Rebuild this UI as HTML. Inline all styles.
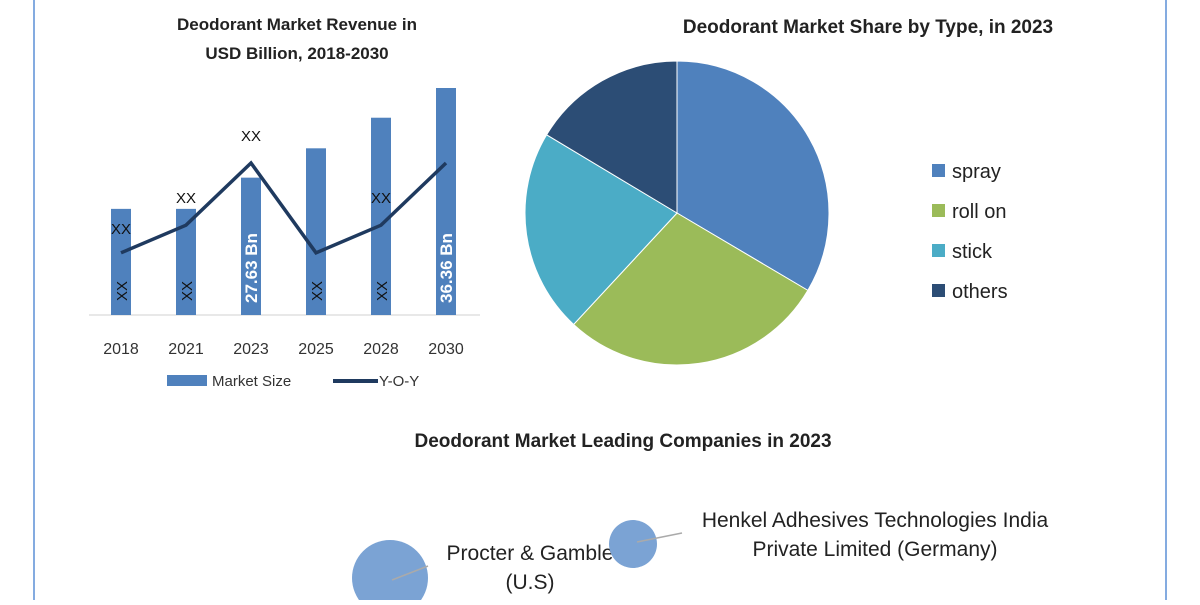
<!DOCTYPE html>
<html><head><meta charset="utf-8"><style>
body{margin:0;width:1200px;height:600px;background:#fff;overflow:hidden;font-family:"Liberation Sans",sans-serif}
svg text{font-family:"Liberation Sans",sans-serif}
</style></head><body>
<svg id="c" width="1200" height="600">
<line x1="34" y1="0" x2="34" y2="600" stroke="#5b8fd6" stroke-width="1.5"/>
<line x1="1166" y1="0" x2="1166" y2="600" stroke="#5b8fd6" stroke-width="1.5"/>
<text x="297" y="30" text-anchor="middle" font-size="17" font-weight="bold" fill="#222">Deodorant Market Revenue in</text>
<text x="297" y="59" text-anchor="middle" font-size="17" font-weight="bold" fill="#222">USD Billion, 2018-2030</text>
<line x1="89" y1="315" x2="480" y2="315" stroke="#d0d0d0"/>
<g id="bars"></g>
<g id="line"></g>
<rect x="167" y="375" width="40" height="11" fill="#4f81bd"/>
<text x="212" y="386" font-size="15" fill="#333">Market Size</text>
<line x1="333" y1="381" x2="378" y2="381" stroke="#1f3a5f" stroke-width="4"/>
<text x="379" y="386" font-size="15" fill="#333">Y-O-Y</text>
<text x="868" y="33" text-anchor="middle" font-size="19" font-weight="bold" fill="#222">Deodorant Market Share by Type, in 2023</text>
<g id="pie"></g>
<g id="legend"></g>
<text x="623" y="447" text-anchor="middle" font-size="19" font-weight="bold" fill="#222">Deodorant Market Leading Companies in 2023</text>
<circle cx="390" cy="578" r="38" fill="#7ba3d4"/>
<line x1="392" y1="580" x2="428" y2="566" stroke="#aaa" stroke-width="1.5"/>
<text x="530" y="560" text-anchor="middle" font-size="21" fill="#222" style="font-family:'Liberation Sans Narrow','Liberation Sans',sans-serif">Procter &amp; Gamble</text>
<text x="530" y="589" text-anchor="middle" font-size="21" fill="#222" style="font-family:'Liberation Sans Narrow','Liberation Sans',sans-serif">(U.S)</text>
<circle cx="633" cy="544" r="24" fill="#7ba3d4"/>
<line x1="637" y1="542" x2="682" y2="533" stroke="#aaa" stroke-width="1.5"/>
<text x="875" y="527" text-anchor="middle" font-size="21" fill="#222" style="font-family:'Liberation Sans Narrow','Liberation Sans',sans-serif">Henkel Adhesives Technologies India</text>
<text x="875" y="556" text-anchor="middle" font-size="21" fill="#222" style="font-family:'Liberation Sans Narrow','Liberation Sans',sans-serif">Private Limited (Germany)</text>
</svg>
<script>
const years=["2018","2021","2023","2025","2028","2030"];
const marketSize=[17.0,17.0,22.0,26.7,31.6,36.36];
const yoy=[2.7,3.9,6.6,2.7,3.9,6.6];
const barLabels=["XX","XX","27.63 Bn","XX","XX","36.36 Bn"];
const yoyLabels=["XX","XX","XX","","XX",""];
const shareTypes=["spray","roll on","stick","others"];
const shareValues=[33.5,28.4,21.7,16.4];
const shareColors=["#4f81bd","#9bbb59","#4bacc6","#2c4d75"];
const NS="http://www.w3.org/2000/svg";
function mk(t,a,p){const e=document.createElementNS(NS,t);for(const k in a)e.setAttribute(k,a[k]);p.appendChild(e);return e;}
const x0=121,step=65,base=315;
const xS=i=>x0+i*step;
const yS=v=>base-v*(227/36.36);
const yL=v=>base-v*(152/6.6);
const gb=document.getElementById('bars');
years.forEach((y,i)=>{
 const top=yS(marketSize[i]);
 const r=mk('rect',{x:xS(i)-10,y:top,width:20,height:base-top,fill:'#4f81bd'},gb);
 
 
 const t=mk('text',{x:xS(i),y:354,'text-anchor':'middle','font-size':16,fill:'#333'},gb);t.textContent=y;
 
 
 const big=barLabels[i]!=="XX";
 const lb=mk('text',{transform:`translate(${xS(i)+6},${big?303:301}) rotate(-90)`,'font-size':big?17:15,'font-weight':big?'bold':'normal',fill:big?'#fff':'#111'},gb);
 lb.textContent=barLabels[i];
 
 
});
const gl=document.getElementById('line');
const pl=mk('polyline',{points:yoy.map((v,i)=>xS(i)+','+yL(v)).join(' '),fill:'none',stroke:'#1f3a5f','stroke-width':3.5},gl);


yoy.forEach((v,i)=>{ if(!yoyLabels[i])return;
 const t=mk('text',{x:xS(i),y:yL(v)-(i==0?19:22),'text-anchor':'middle','font-size':15,fill:'#111'},gl);t.textContent=yoyLabels[i];
 
 
});
const gp=document.getElementById('pie'),cx=677,cy=213,R=152;
const tot=shareValues.reduce((a,b)=>a+b,0);let a0=0;
shareValues.forEach((v,i)=>{
 const a1=a0+v/tot*2*Math.PI;
 const p=(a)=>[cx+R*Math.sin(a),cy-R*Math.cos(a)];
 const [x1,y1]=p(a0),[x2,y2]=p(a1);
 const s=mk('path',{d:`M${cx},${cy}L${x1},${y1}A${R},${R} 0 ${a1-a0>Math.PI?1:0} 1 ${x2},${y2}Z`,fill:shareColors[i],stroke:'#fff','stroke-width':1},gp);
 
 
 a0=a1;
});
const lg=document.getElementById('legend');
shareTypes.forEach((n,i)=>{
 const y=171+i*40;
 const r=mk('rect',{x:932,y:y-7,width:13,height:13,fill:shareColors[i]},lg);
 
 
 const t=mk('text',{x:952,y:y+7,'font-size':20,fill:'#222'},lg);t.textContent=n;
 
 
});
</script>
</body></html>
